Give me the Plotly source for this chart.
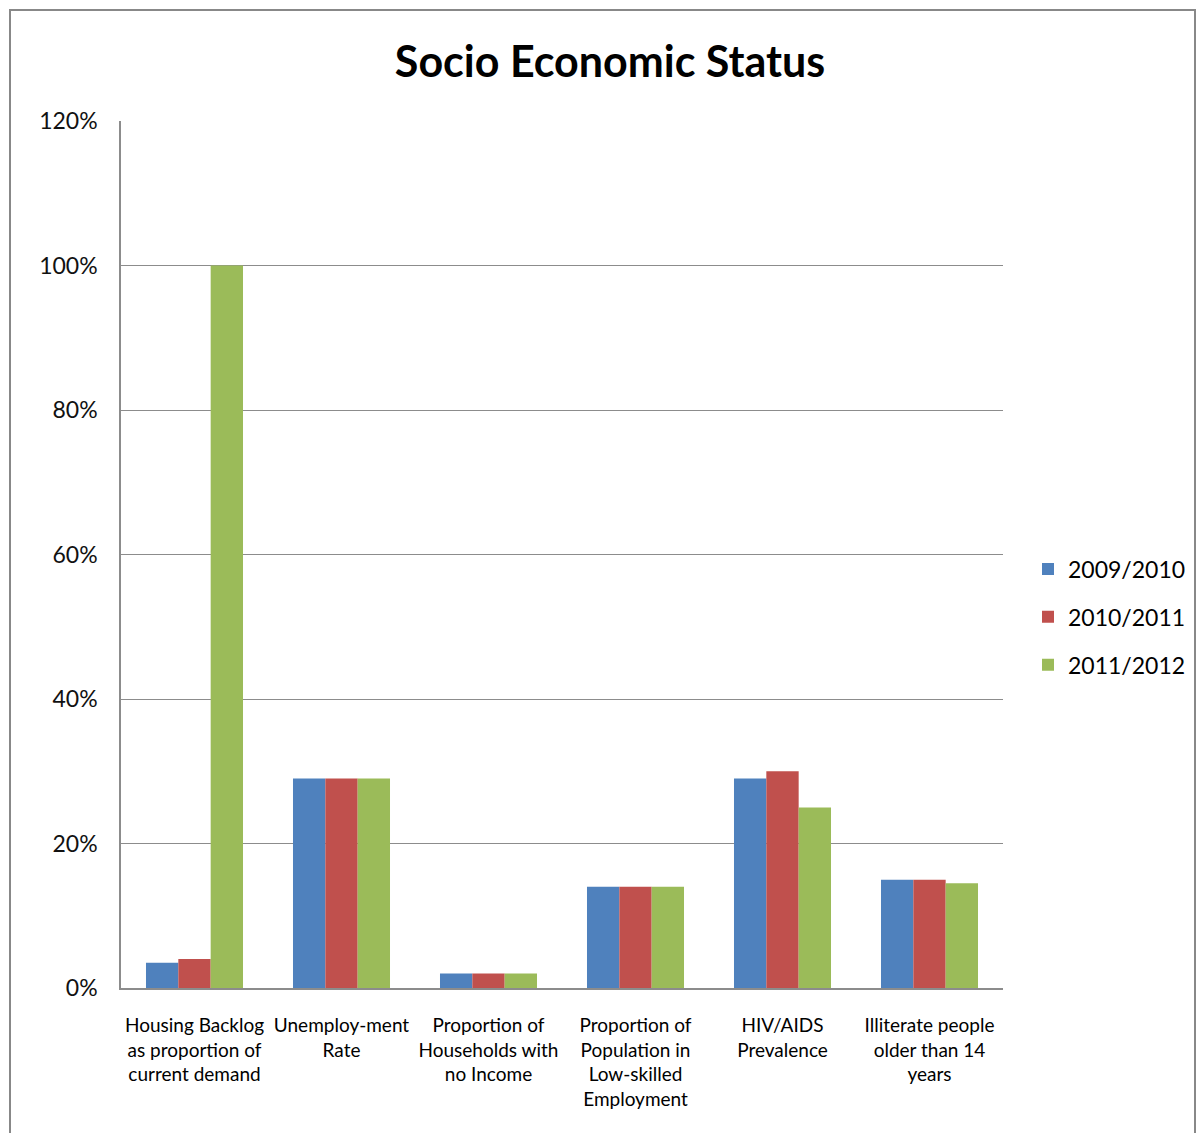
import plotly.graph_objects as go

categories = [
    "Housing Backlog<br>as proportion of<br>current demand",
    "Unemploy-ment<br>Rate",
    "Proportion of<br>Households with<br>no Income",
    "Proportion of<br>Population in<br>Low-skilled<br>Employment",
    "HIV/AIDS<br>Prevalence",
    "Illiterate people<br>older than 14<br>years",
]
series_names = ["2009/2010", "2010/2011", "2011/2012"]
v2009 = [0.035, 0.29, 0.02, 0.14, 0.29, 0.15]
v2010 = [0.04, 0.29, 0.02, 0.14, 0.30, 0.15]
v2011 = [1.00, 0.29, 0.02, 0.14, 0.25, 0.145]
tick_vals = [0, 0.2, 0.4, 0.6, 0.8, 1.0, 1.2]
tick_text = ["0%", "20%", "40%", "60%", "80%", "100%", "120%"]

colors = ["#4F81BD", "#C0504D", "#9BBB59"]
FONT = "Lato, 'Open Sans', sans-serif"

fig = go.Figure()
for i, (name, vals) in enumerate(zip(series_names, [v2009, v2010, v2011])):
    fig.add_trace(go.Bar(
        x=categories, y=vals, name=name,
        marker=dict(color=colors[i], line=dict(width=0)),
        legendgroup=name,
    ))

W, H = 1197, 1133
L, T = 121, 121
R = W - 1003
B = H - 988
pw, ph = W - L - R, H - T - B

def px(xr):
    return (xr - L) / pw

def py(yr):
    return (988 - yr) / ph

fig.update_layout(
    width=W, height=H,
    margin=dict(l=L, r=R, t=T, b=B, pad=0, autoexpand=False),
    paper_bgcolor="white", plot_bgcolor="white",
    barmode="group", bargap=0.34, bargroupgap=0,
    font=dict(family=FONT, color="#000000"),
    title=dict(text="<b>Socio Economic Status</b>", x=px(610), xref="paper",
               xanchor="center", y=1 - 62 / H, yanchor="middle",
               font=dict(size=43, family=FONT, color="#000000")),
    legend=dict(x=1028 / W, y=1 - 617 / H, xref="container", yref="container",
                xanchor="left", yanchor="middle",
                font=dict(size=23, family=FONT, color="#000000"),
                tracegroupgap=15, bgcolor="rgba(0,0,0,0)"),
    xaxis=dict(showline=True, linecolor="#8c8c8c", linewidth=2, ticks="",
               tickfont=dict(size=19, family=FONT, color="#000000"),
               tickangle=0, showgrid=False, ticklabelstandoff=19),
    yaxis=dict(range=[0, 1.2], tickvals=tick_vals, ticktext=tick_text,
               showline=True, linecolor="#8c8c8c", linewidth=1.5,
               showgrid=True, gridcolor="#8c8c8c", gridwidth=1,
               zeroline=False, ticks="", ticklabelstandoff=17,
               tickfont=dict(size=23, family=FONT, color="#111111")),
    shapes=[dict(type="rect", xref="paper", yref="paper",
                 x0=px(10), x1=px(1195),
                 y0=py(1150), y1=py(10),
                 line=dict(color="#888888", width=2), fillcolor="rgba(0,0,0,0)",
                 layer="below")],
)

fig.write_html("out.html", config={"displayModeBar": False, "responsive": False},
               post_script="document.body.style.margin='0';document.body.style.overflow='hidden';")
